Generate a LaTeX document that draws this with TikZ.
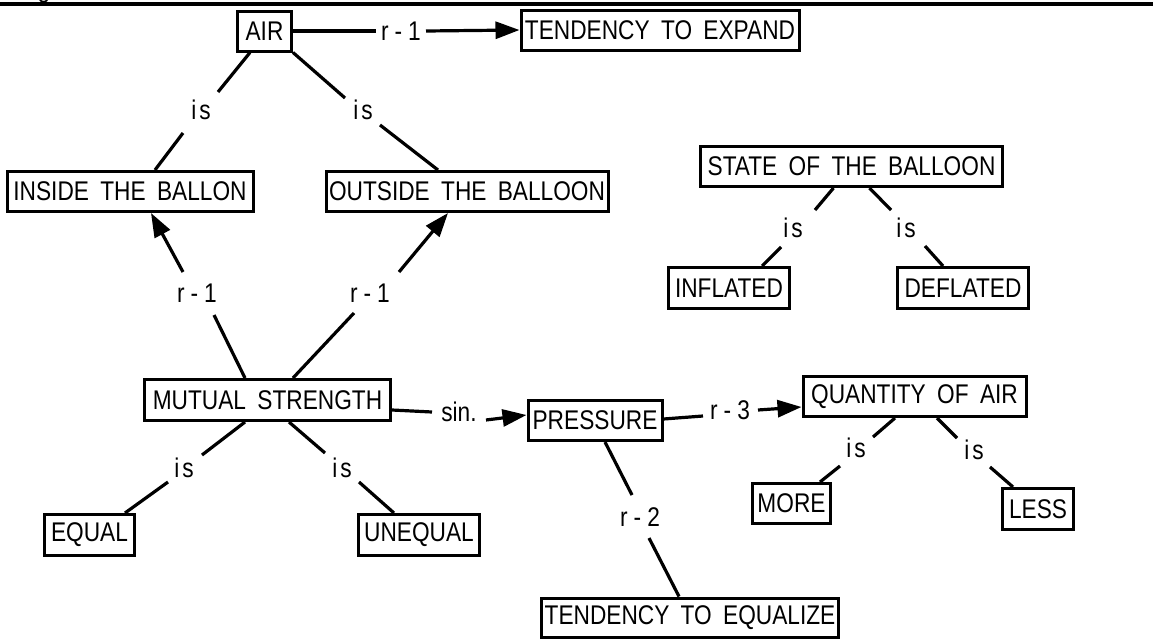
\documentclass[tikz,border=0pt]{standalone}
\usepackage{fontspec}
\setmainfont{Liberation Sans}[FakeStretch=0.84, WordSpace=1.8]
\usetikzlibrary{calc,arrows.meta}
\newcommand\rlab[1]{r\hspace{6pt}-\hspace{6pt}#1}
\newcommand\islab{i\hspace{3pt}s}
\tikzset{
  box/.style={draw, line width=3pt, inner sep=0pt, minimum height=40pt},
  lbl/.style={inner sep=0pt},
  conn/.style={line width=3.2pt},
  arr/.style={conn, -{Triangle[length=24pt,width=17pt]}}
}
\begin{document}
\begin{tikzpicture}[x=1pt,y=-1pt, every node/.style={font=\fontsize{27}{32}\selectfont}]
\useasboundingbox (0,0) rectangle (1153,640);
% top rule and cut-off glyph
\begin{scope}
  \clip (0,0) rectangle (1153,3);
  \node[lbl, anchor=base] (gfrag) at (44,-3) {g};
\end{scope}
\draw[line width=3.5pt] (0,4) -- (1153,4);

% boxes
\node[box, minimum width=54pt]  (air)      at (264.5,31)  {AIR};
\node[box, minimum width=278pt] (tendexp)  at (660,30)    {TENDENCY TO EXPAND};
\node[box, minimum width=246pt] (inside)   at (130,191.5) {INSIDE THE BALLON};
\node[box, minimum width=282pt] (outside)  at (467,191.5) {OUTSIDE THE BALLOON};
\node[box, minimum width=246pt, minimum height=41pt] (mutual) at (267.5,400) {MUTUAL STRENGTH};
\node[box, minimum width=134pt] (pressure) at (595,420.5) {PRESSURE};
\node[box, minimum width=223pt] (quantity) at (914.5,396.5) {QUANTITY OF AIR};
\node[box, minimum width=302pt] (state)    at (851.5,166.5) {STATE OF THE BALLOON};
\node[box, minimum width=121pt, minimum height=41pt] (inflated) at (729,288) {INFLATED};
\node[box, minimum width=131pt, minimum height=41pt] (deflated) at (963,288) {DEFLATED};
\node[box, minimum width=90pt, minimum height=41pt]  (equal)    at (89.5,535) {EQUAL};
\node[box, minimum width=121pt, minimum height=41pt] (unequal)  at (419,535) {UNEQUAL};
\node[box, minimum width=78pt]  (more)     at (791.5,503.5) {MORE};
\node[box, minimum width=71pt, minimum height=41pt]  (less) at (1038,509) {LESS};
\node[box, minimum width=297pt, minimum height=39pt] (tendeq) at (690,617.5) {TENDENCY TO EQUALIZE};

% link labels
\node[lbl] (la) at (401,31)  {\rlab{1}};
\node[lbl] (lb) at (201,110) {\islab};
\node[lbl] (lc) at (363,110) {\islab};
\node[lbl] (ld) at (197,293) {\rlab{1}};
\node[lbl] (le) at (370,293) {\rlab{1}};
\node[lbl] (lf) at (184,468) {\islab};
\node[lbl] (lg) at (342,468) {\islab};
\node[lbl] (lh) at (459,412) {sin.};
\node[lbl] (li) at (730,410) {\rlab{3}};
\node[lbl] (lj) at (640,517) {\rlab{2}};
\node[lbl] (lk) at (856,448) {\islab};
\node[lbl] (ll) at (974,450) {\islab};
\node[lbl] (lm) at (793,228) {\islab};
\node[lbl] (ln) at (906,228) {\islab};

% connectors
\draw[conn] (air.east) -- ($(la)+(-25,0)$);
\draw[arr]  ($(la)+(25,0)$) -- (tendexp.west);

\draw[conn] ($(air.south)+(-14.5,0)$) -- ($(lb)+(17,-18)$);
\draw[conn] ($(lb)+(-18,23)$) -- ($(inside.north)+(25,0)$);
\draw[conn] (air.south east) -- ($(lc)+(-18,-12)$);
\draw[conn] ($(lc)+(17,15)$) -- ($(outside.north)+(-29,0)$);

\draw[conn] ($(mutual.north)+(-22.5,0)$) -- ($(ld)+(17,22)$);
\draw[arr]  ($(ld)+(-14,-21)$) -- ($(inside.south)+(21,0)$);
\draw[conn] ($(mutual.north)+(25.5,0)$) -- ($(le)+(-16,20)$);
\draw[arr]  ($(le)+(29,-21)$) -- ($(outside.south)+(-19,0)$);

\draw[conn] ($(mutual.south)+(-22.5,0)$) -- ($(lf)+(18,-13)$);
\draw[conn] ($(lf)+(-16,14)$) -- ($(equal.north)+(35.5,0)$);
\draw[conn] ($(mutual.south)+(21.5,0)$) -- ($(lg)+(-17,-15)$);
\draw[conn] ($(lg)+(17,14)$) -- ($(unequal.north)+(-25,0)$);

\draw[conn] ($(mutual.east)+(0,10)$) -- ($(lh)+(-27,0)$);
\draw[arr]  ($(lh)+(27,8)$) -- ($(pressure.west)+(0,-5.5)$);

\draw[conn] ($(pressure.east)+(0,-1.5)$) -- ($(li)+(-27,6)$);
\draw[arr]  ($(li)+(28,0)$) -- ($(quantity.west)+(0,10.5)$);

\draw[conn] ($(pressure.south)+(10,0)$) -- ($(lj)+(-8,-22)$);
\draw[conn] ($(lj)+(9,21)$) -- ($(tendeq.north)+(-11,0)$);

\draw[conn] ($(quantity.south)+(-19.5,0)$) -- ($(lk)+(17,-11)$);
\draw[conn] ($(lk)+(-16,18)$) -- ($(more.north)+(28.5,0)$);
\draw[conn] ($(quantity.south)+(22.5,0)$) -- ($(ll)+(-17,-12)$);
\draw[conn] ($(ll)+(16,17)$) -- ($(less.north)+(-25,0)$);

\draw[conn] ($(state.south)+(-18,0)$) -- ($(lm)+(22,-18)$);
\draw[conn] ($(lm)+(-12,19)$) -- ($(inflated.north)+(33,0)$);
\draw[conn] ($(state.south)+(18,0)$) -- ($(ln)+(-15,-18)$);
\draw[conn] ($(ln)+(19,18)$) -- ($(deflated.north)+(-20,0)$);
\end{tikzpicture}
\end{document}
